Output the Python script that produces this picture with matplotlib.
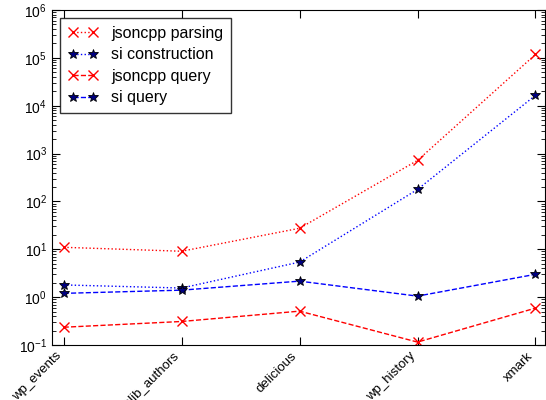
import numpy as np
import matplotlib
matplotlib.use('Agg')
import matplotlib.pyplot as plt

# --- Data ---
datasets = ['wp_events', 'openlib_authors', 'delicious', 'wp_history', 'xmark']
jsoncpp_parsing = [11.0, 9.1, 27.5, 720.0, 118000.0]
si_construction = [1.8, 1.55, 5.4, 178.0, 16500.0]
jsoncpp_query = [0.235, 0.31, 0.51, 0.115, 0.59]
si_query = [1.2, 1.4, 2.16, 1.05, 3.0]

plt.rcParams['mathtext.fontset'] = 'cm'
plt.rcParams['font.family'] = ['Liberation Sans', 'DejaVu Sans']

fig = plt.figure(figsize=(5.46, 4.0), dpi=100)
ax = fig.add_axes([0.095, 0.1375, 0.903, 0.8375])

x = np.arange(len(datasets))
ax.plot(x, jsoncpp_parsing, ':', color='red', marker='x', ms=6.5, lw=1,
        label='jsoncpp parsing')
ax.plot(x, si_construction, ':', color='blue', marker='*', ms=7, lw=1,
        mfc='navy', mec='black', mew=0.6, label='si construction')
ax.plot(x, jsoncpp_query, '--', color='red', marker='x', ms=6.5, lw=1,
        label='jsoncpp query')
ax.plot(x, si_query, '--', color='blue', marker='*', ms=7, lw=1,
        mfc='navy', mec='black', mew=0.6, label='si query')

ax.set_yscale('log')
ax.set_ylim(0.1, 1e6)
ax.set_xlim(-0.1, 4.08)
ax.set_xticks(x)
ax.set_xticklabels(datasets, rotation=45, ha='right', fontsize=9.5)
ax.tick_params(which='both', direction='in', top=True, right=True)
ax.tick_params(which='major', length=6)
ax.tick_params(which='minor', length=3)
ax.tick_params(axis='y', labelsize=10)

leg = ax.legend(loc='upper left', fontsize=11.5, fancybox=False, numpoints=2,
                handlelength=1.9, borderpad=0.5, labelspacing=0.4)
leg.get_frame().set_edgecolor('black')
leg.get_frame().set_linewidth(1)

fig.savefig('out.png', dpi=100)
